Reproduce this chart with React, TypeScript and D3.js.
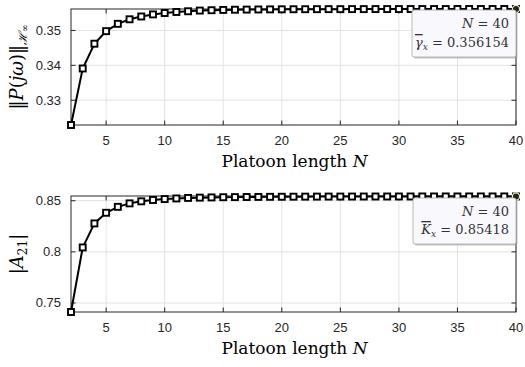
import React from "react";
import * as d3 from "d3";

const N_VALUES = [2,3,4,5,6,7,8,9,10,11,12,13,14,15,16,17,18,19,20,21,22,23,24,25,26,27,28,29,30,31,32,33,34,35,36,37,38,39,40];
const GAMMA = [0.3229,0.3391,0.3462,0.3498,0.3519,0.3532,0.3540,0.3546,0.3550,0.3553,0.3555,0.3557,0.3558,0.35588,0.35594,0.35598,0.35601,0.35604,0.35606,0.35608,0.35609,0.35610,0.35611,0.35611,0.35612,0.35612,0.35613,0.35613,0.35613,0.35614,0.35614,0.35614,0.35614,0.35615,0.35615,0.35615,0.35615,0.35615,0.356154];
const A21 = [0.7412,0.8043,0.8278,0.8382,0.8440,0.8474,0.8494,0.8507,0.8516,0.8522,0.8527,0.8530,0.8532,0.8534,0.8535,0.8536,0.8537,0.8538,0.85387,0.85393,0.85398,0.85401,0.85404,0.85406,0.85408,0.85410,0.85411,0.85412,0.85413,0.85414,0.85415,0.85415,0.85416,0.85416,0.85417,0.85417,0.85417,0.85418,0.85418];
const X_TICKS = [5,10,15,20,25,30,35,40];
const GAMMA_TICKS = [0.33,0.34,0.35];
const A21_TICKS = [0.75,0.8,0.85];
const GAMMA_TICK_LABELS = ["0.33","0.34","0.35"];
const A21_TICK_LABELS = ["0.75","0.8","0.85"];

const SANS = "Liberation Sans, Arial, Helvetica, sans-serif";
const SERIF = "DejaVu Serif, Liberation Serif, serif";

type PanelProps = {
  values: number[];
  yDomain: [number, number];
  yTicks: number[];
  yTickLabels: string[];
  top: number;
  bottom: number;
  ylabel: React.ReactNode;
  tip: React.ReactNode;
  tipBox: { x: number; y: number; w: number; h: number };
};

const LEFT = 71;
const RIGHT = 516;

function Panel({ values, yDomain, yTicks, yTickLabels, top, bottom, ylabel, tip, tipBox }: PanelProps) {
  const x = d3.scaleLinear().domain([2, 40]).range([LEFT, RIGHT]);
  const y = d3.scaleLinear().domain(yDomain).range([bottom, top]);
  const line = d3.line<number>().x((_, i) => x(N_VALUES[i])).y((d) => y(d));
  const pts = values.map((v, i) => [x(N_VALUES[i]), y(v)]);
  const last = pts[pts.length - 1];
  const axisColor = "#262626";
  return (
    <g>
      <rect x={LEFT} y={top} width={RIGHT - LEFT} height={bottom - top} fill="#fff" />
      {X_TICKS.map((t) => (
        <line key={"gx" + t} x1={x(t)} x2={x(t)} y1={top} y2={bottom} stroke="#e3e3e3" strokeWidth={1} />
      ))}
      {yTicks.map((t) => (
        <line key={"gy" + t} x1={LEFT} x2={RIGHT} y1={y(t)} y2={y(t)} stroke="#e3e3e3" strokeWidth={1} />
      ))}
      {X_TICKS.map((t) => (
        <g key={"tx" + t}>
          <line x1={x(t)} x2={x(t)} y1={bottom} y2={bottom - 4.5} stroke={axisColor} />
          <line x1={x(t)} x2={x(t)} y1={top} y2={top + 4.5} stroke={axisColor} />
          <text x={x(t)} y={bottom + 20} fontFamily={SANS} fontSize={13} fill={axisColor} textAnchor="middle">{t}</text>
        </g>
      ))}
      {yTicks.map((t, i) => (
        <g key={"ty" + t}>
          <line x1={LEFT} x2={LEFT + 4.5} y1={y(t)} y2={y(t)} stroke={axisColor} />
          <line x1={RIGHT} x2={RIGHT - 4.5} y1={y(t)} y2={y(t)} stroke={axisColor} />
          <text x={LEFT - 10} y={y(t) + 4.5} fontFamily={SANS} fontSize={13} fill={axisColor} textAnchor="end">{yTickLabels[i]}</text>
        </g>
      ))}
      <rect x={LEFT} y={top} width={RIGHT - LEFT} height={bottom - top} fill="none" stroke={axisColor} strokeWidth={1} />
      <path d={line(values) || ""} fill="none" stroke="#000" strokeWidth={2} />
      {pts.map((p, i) => (
        <rect key={"m" + i} x={p[0] - 3} y={p[1] - 3} width={6} height={6} fill="#fff" stroke="#000" strokeWidth={1.9} />
      ))}
      <circle cx={last[0]} cy={last[1]} r={3.6} fill="#222" stroke="#eeeebb" strokeWidth={1.2} />
      <rect x={tipBox.x + 1.5} y={tipBox.y + 1.5} width={tipBox.w} height={tipBox.h} rx={2} fill="#a0a0a0" opacity={0.6} />
      <rect x={tipBox.x} y={tipBox.y} width={tipBox.w} height={tipBox.h} rx={2} fill="#f8f8fd" stroke="#a8a8a8" strokeWidth={0.8} />
      {tip}
      {ylabel}
      <text x={(LEFT + RIGHT) / 2 + 1} y={bottom + 42} fontFamily={SERIF} fontSize={17} fill="#000" textAnchor="middle">
        Platoon length <tspan fontStyle="italic">N</tspan>
      </text>
    </g>
  );
}

export default function App() {
  const tipFont = { fontFamily: SERIF, fontSize: 13, fill: "#333" } as const;
  return (
    <svg width={525} height={367} style={{ position: "absolute", left: 0, top: 0, background: "#fff" }}>
      <rect width={525} height={367} fill="#fff" />
      <Panel
        values={GAMMA}
        yDomain={[0.3229, 0.35615]}
        yTicks={GAMMA_TICKS}
        yTickLabels={GAMMA_TICK_LABELS}
        top={9}
        bottom={125}
        tipBox={{ x: 412, y: 10, w: 104, h: 47 }}
        tip={
          <g>
            <text x={509} y={28} textAnchor="end" {...tipFont}>
              <tspan fontStyle="italic">N</tspan> = 40
            </text>
            <text x={509} y={47} textAnchor="end" {...tipFont}>
              <tspan fontStyle="italic" textDecoration="overline">γ</tspan><tspan fontStyle="italic" fontSize={9} dy={3}>x</tspan><tspan dy={-3}> = 0.356154</tspan>
            </text>
          </g>
        }
        ylabel={
          <text transform="translate(23,67) rotate(-90)" textAnchor="middle" fontFamily={SERIF} fontSize={18} fill="#000">
            ‖<tspan fontStyle="italic">P</tspan>(<tspan fontStyle="italic">jω</tspan>)‖<tspan fontSize={12} fontStyle="italic" dy={4}>ℋ</tspan><tspan fontSize={9} dy={1}>∞</tspan>
          </text>
        }
      />
      <Panel
        values={A21}
        yDomain={[0.7412, 0.8546]}
        yTicks={A21_TICKS}
        yTickLabels={A21_TICK_LABELS}
        top={196}
        bottom={312}
        tipBox={{ x: 413, y: 198, w: 103, h: 46 }}
        tip={
          <g>
            <text x={509} y={216} textAnchor="end" {...tipFont}>
              <tspan fontStyle="italic">N</tspan> = 40
            </text>
            <text x={509} y={234} textAnchor="end" {...tipFont}>
              <tspan fontStyle="italic" textDecoration="overline">K</tspan><tspan fontStyle="italic" fontSize={9} dy={3}>x</tspan><tspan dy={-3}> = 0.85418</tspan>
            </text>
          </g>
        }
        ylabel={
          <text transform="translate(23,254) rotate(-90)" textAnchor="middle" fontFamily={SERIF} fontSize={18} fill="#000">
            |<tspan fontStyle="italic">A</tspan><tspan fontSize={12} dy={4}>21</tspan><tspan dy={-4}>|</tspan>
          </text>
        }
      />
    </svg>
  );
}
